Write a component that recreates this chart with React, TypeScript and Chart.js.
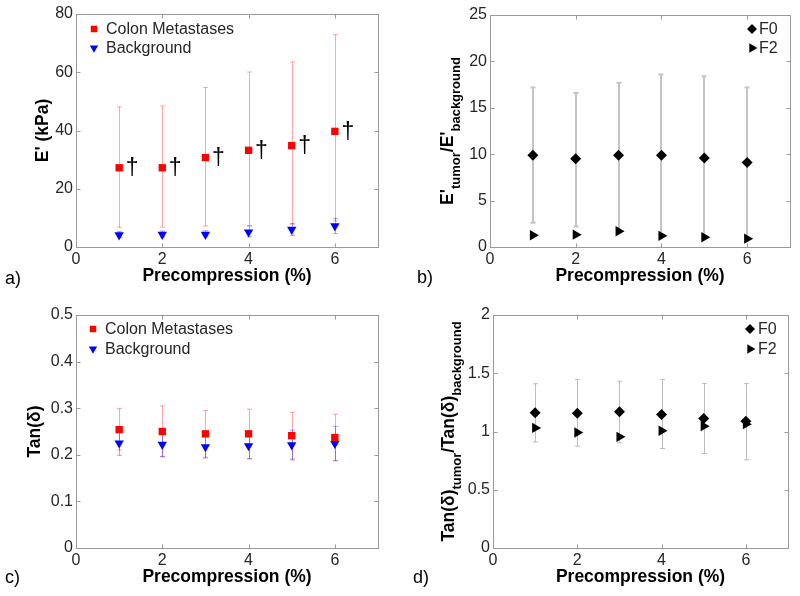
import React, { useEffect, useRef } from 'react';
import { Chart, registerables } from 'chart.js';
import { drawPoint } from 'chart.js/helpers';

Chart.register(...registerables);

const FONT = "'Liberation Sans', Arial, Helvetica, sans-serif";

// ---------- data ----------
const precompression = [1, 2, 3, 4, 5, 6];
const xTicks = [0, 2, 4, 6];

// panel a: E' (kPa)
const eColon = [27.2, 27.2, 30.7, 33.2, 34.8, 39.7];
const eColonLow = [6.8, 6.8, 7.2, 7.4, 7.8, 9.0];
const eColonHigh = [48.1, 48.4, 54.8, 60.1, 63.5, 72.9];
const eBackground = [4.1, 4.3, 4.3, 5.1, 6.0, 7.2];
const eBackgroundLow = [3.3, 3.4, 3.5, 3.5, 3.9, 4.6];
const eBackgroundHigh = [5.3, 5.5, 5.6, 7.2, 8.1, 9.8];
const eYTicks = [0, 20, 40, 60, 80];

// panel b: E'tumor / E'background
const eRatioF0 = [9.9, 9.5, 9.9, 9.9, 9.6, 9.1];
const eRatioF0Low = [2.6, 2.2, 1.8, 1.3, 1.2, 1.0];
const eRatioF0High = [17.2, 16.6, 17.7, 18.6, 18.4, 17.2];
const eRatioF2 = [1.26, 1.33, 1.7, 1.2, 1.05, 0.9];
const eRatioYTicks = [0, 5, 10, 15, 20, 25];

// panel c: Tan(delta)
const tanColon = [0.254, 0.25, 0.245, 0.245, 0.241, 0.237];
const tanColonLow = [0.21, 0.196, 0.195, 0.192, 0.191, 0.188];
const tanColonHigh = [0.299, 0.305, 0.295, 0.298, 0.291, 0.287];
const tanBackground = [0.225, 0.222, 0.217, 0.219, 0.221, 0.224];
const tanBackgroundLow = [0.199, 0.196, 0.193, 0.191, 0.189, 0.187];
const tanBackgroundHigh = [0.251, 0.248, 0.241, 0.247, 0.253, 0.261];
const tanYTicks = [0, 0.1, 0.2, 0.3, 0.4, 0.5];

// panel d: Tan(delta)tumor / Tan(delta)background
const tanRatioF0 = [1.16, 1.157, 1.169, 1.146, 1.111, 1.089];
const tanRatioF0Low = [0.91, 0.874, 0.903, 0.854, 0.811, 0.757];
const tanRatioF0High = [1.41, 1.446, 1.431, 1.446, 1.411, 1.411];
const tanRatioF2 = [1.031, 0.991, 0.954, 1.006, 1.046, 1.063];
const tanRatioYTicks = [0, 0.5, 1, 1.5, 2];

const xTitle = 'Precompression (%)';

// ---------- types ----------
type Part = { text: string; sub?: boolean };
type ErrSpec = { low: number[]; high: number[]; color: string; width: number; cap: number };
type LegendItem = { label: string; style: string; rotation: number; radius: number; color: string };
type PanelSpec = {
  left: number; top: number; width: number; height: number;
  area: { left: number; top: number; right: number; bottom: number };
  yMin: number; yMax: number; yTicks: number[];
  datasets: any[];
  errors: ErrSpec[];
  legend: { x: number; y: number; gap: number; textX: number; items: LegendItem[] };
  yTitle: Part[]; yTitleX: number;
  label: string; labelX: number; labelY: number;
  daggers?: number[];
};

const pts = (ys: number[]) => precompression.map((x, i) => ({ x, y: ys[i] }));

const marker = (label: string, ys: number[], style: string, rotation: number, radius: number, color: string) => ({
  label,
  data: pts(ys),
  pointStyle: style,
  pointRotation: rotation,
  pointRadius: radius,
  pointBackgroundColor: color,
  pointBorderColor: color,
  pointBorderWidth: 0,
  showLine: false,
});

const RED = '#ff0000';
const BLUE = '#0000ff';
const BLACK = '#000000';

const panels: PanelSpec[] = [
  {
    left: 0, top: 0, width: 400, height: 298,
    area: { left: 76, top: 14, right: 378, bottom: 247 },
    yMin: 0, yMax: 80, yTicks: eYTicks,
    datasets: [
      marker('Colon Metastases', eColon, 'rect', 0, 5.2, RED),
      marker('Background', eBackground, 'triangle', 180, 5.4, BLUE),
    ],
    errors: [
      { low: eColonLow, high: eColonHigh, color: 'rgba(255,0,0,0.35)', width: 1, cap: 2.5 },
      { low: eBackgroundLow, high: eBackgroundHigh, color: 'rgba(0,0,255,0.35)', width: 1, cap: 2.5 },
    ],
    legend: {
      x: 94, y: 29, gap: 19, textX: 106,
      items: [
        { label: 'Colon Metastases', style: 'rect', rotation: 0, radius: 4.6, color: RED },
        { label: 'Background', style: 'triangle', rotation: 180, radius: 4.8, color: BLUE },
      ],
    },
    yTitle: [{ text: "E' (kPa)" }], yTitleX: 43,
    label: 'a)', labelX: 5, labelY: 279,
    daggers: eColon,
  },
  {
    left: 400, top: 0, width: 400, height: 298,
    area: { left: 90, top: 15, right: 390, bottom: 247 },
    yMin: 0, yMax: 25, yTicks: eRatioYTicks,
    datasets: [
      marker('F0', eRatioF0, 'rectRot', 0, 5.5, BLACK),
      marker('F2', eRatioF2, 'triangle', 90, 6, BLACK),
    ],
    errors: [
      { low: eRatioF0Low, high: eRatioF0High, color: '#c4c4c4', width: 2, cap: 2.5 },
    ],
    legend: {
      x: 352, y: 29, gap: 19, textX: 359,
      items: [
        { label: 'F0', style: 'rectRot', rotation: 0, radius: 5, color: BLACK },
        { label: 'F2', style: 'triangle', rotation: 90, radius: 5.4, color: BLACK },
      ],
    },
    yTitle: [{ text: "E'" }, { text: 'tumor', sub: true }, { text: "/E'" }, { text: 'background', sub: true }],
    yTitleX: 48,
    label: 'b)', labelX: 17, labelY: 278,
  },
  {
    left: 0, top: 298, width: 400, height: 298,
    area: { left: 76, top: 17, right: 378, bottom: 250 },
    yMin: 0, yMax: 0.5, yTicks: tanYTicks,
    datasets: [
      marker('Colon Metastases', tanColon, 'rect', 0, 5.2, RED),
      marker('Background', tanBackground, 'triangle', 180, 5.4, BLUE),
    ],
    errors: [
      { low: tanColonLow, high: tanColonHigh, color: 'rgba(255,0,0,0.35)', width: 1, cap: 2.5 },
      { low: tanBackgroundLow, high: tanBackgroundHigh, color: 'rgba(0,0,255,0.35)', width: 1, cap: 2.5 },
    ],
    legend: {
      x: 93, y: 31, gap: 20, textX: 105,
      items: [
        { label: 'Colon Metastases', style: 'rect', rotation: 0, radius: 4.6, color: RED },
        { label: 'Background', style: 'triangle', rotation: 180, radius: 4.8, color: BLUE },
      ],
    },
    yTitle: [{ text: 'Tan(δ)' }], yTitleX: 35,
    label: 'c)', labelX: 5, labelY: 280,
  },
  {
    left: 400, top: 298, width: 400, height: 298,
    area: { left: 93, top: 17, right: 388, bottom: 250 },
    yMin: 0, yMax: 2, yTicks: tanRatioYTicks,
    datasets: [
      marker('F0', tanRatioF0, 'rectRot', 0, 5.5, BLACK),
      marker('F2', tanRatioF2, 'triangle', 90, 6, BLACK),
    ],
    errors: [
      { low: tanRatioF0Low, high: tanRatioF0High, color: '#bdbdbd', width: 1, cap: 2.5 },
    ],
    legend: {
      x: 350, y: 31, gap: 20, textX: 358,
      items: [
        { label: 'F0', style: 'rectRot', rotation: 0, radius: 5, color: BLACK },
        { label: 'F2', style: 'triangle', rotation: 90, radius: 5.4, color: BLACK },
      ],
    },
    yTitle: [{ text: 'Tan(δ)' }, { text: 'tumor', sub: true }, { text: '/Tan(δ)' }, { text: 'background', sub: true }],
    yTitleX: 49,
    label: 'd)', labelX: 13, labelY: 280,
  },
];

const AXIS = '#9a9a9a';
const TEXT = '#262626';

function Panel({ spec }: { spec: PanelSpec }) {
  const ref = useRef<HTMLCanvasElement | null>(null);

  useEffect(() => {
    if (!ref.current) return;
    const s = spec;

    const framePlugin = {
      id: 'frame',
      beforeDatasetsDraw(chart: any) {
        const { ctx, chartArea: a, scales } = chart;
        ctx.save();
        ctx.strokeStyle = AXIS;
        ctx.lineWidth = 1;
        const L = Math.round(a.left) + 0.5, R = Math.round(a.right) + 0.5;
        const T = Math.round(a.top) + 0.5, B = Math.round(a.bottom) + 0.5;
        ctx.strokeRect(L, T, R - L, B - T);
        const tl = 4;
        ctx.beginPath();
        xTicks.forEach((v) => {
          const px = Math.round(scales.x.getPixelForValue(v)) + 0.5;
          ctx.moveTo(px, B); ctx.lineTo(px, B - tl);
          ctx.moveTo(px, T); ctx.lineTo(px, T + tl);
        });
        s.yTicks.forEach((v) => {
          const py = Math.round(scales.y.getPixelForValue(v)) + 0.5;
          ctx.moveTo(L, py); ctx.lineTo(L + tl, py);
          ctx.moveTo(R, py); ctx.lineTo(R - tl, py);
        });
        ctx.stroke();

        // error bars
        s.errors.forEach((e) => {
          ctx.strokeStyle = e.color;
          ctx.lineWidth = e.width;
          precompression.forEach((xv, i) => {
            const px = Math.round(scales.x.getPixelForValue(xv)) + (e.width % 2 === 1 ? 0.5 : 0);
            const y1 = scales.y.getPixelForValue(e.low[i]);
            const y2 = scales.y.getPixelForValue(e.high[i]);
            ctx.beginPath();
            ctx.moveTo(px, y1); ctx.lineTo(px, y2);
            ctx.moveTo(px - e.cap, y1); ctx.lineTo(px + e.cap, y1);
            ctx.moveTo(px - e.cap, y2); ctx.lineTo(px + e.cap, y2);
            ctx.stroke();
          });
        });
        ctx.restore();
      },
      afterDatasetsDraw(chart: any) {
        const { ctx, chartArea: a, scales } = chart;
        ctx.save();
        // daggers
        if (s.daggers) {
          ctx.fillStyle = '#000';
          ctx.font = `23px ${FONT}`;
          ctx.textAlign = 'center';
          ctx.textBaseline = 'middle';
          precompression.forEach((xv, i) => {
            ctx.fillText('†', scales.x.getPixelForValue(xv + 0.3), scales.y.getPixelForValue(s.daggers![i]) + 1);
          });
        }
        // legend
        s.legend.items.forEach((it, i) => {
          const y = s.legend.y + i * s.legend.gap;
          ctx.fillStyle = it.color;
          ctx.strokeStyle = it.color;
          drawPoint(ctx, { pointStyle: it.style, rotation: it.rotation, radius: it.radius, borderWidth: 0 } as any, s.legend.x, y);
          ctx.fillStyle = TEXT;
          ctx.font = `16px ${FONT}`;
          ctx.textAlign = 'left';
          ctx.textBaseline = 'middle';
          ctx.fillText(it.label, s.legend.textX, y + 1);
        });
        // x title
        ctx.fillStyle = '#000';
        ctx.font = `bold 17.5px ${FONT}`;
        ctx.textAlign = 'center';
        ctx.textBaseline = 'middle';
        ctx.fillText(xTitle, (a.left + a.right) / 2, a.bottom + 29);
        // y title (rotated, with subscripts)
        const mainFont = `bold 17.5px ${FONT}`;
        const subFont = `bold 13px ${FONT}`;
        let total = 0;
        s.yTitle.forEach((p) => {
          ctx.font = p.sub ? subFont : mainFont;
          total += ctx.measureText(p.text).width;
        });
        ctx.translate(s.yTitleX, (a.top + a.bottom) / 2);
        ctx.rotate(-Math.PI / 2);
        ctx.textAlign = 'left';
        ctx.textBaseline = 'middle';
        let cx = -total / 2;
        s.yTitle.forEach((p) => {
          ctx.font = p.sub ? subFont : mainFont;
          ctx.fillText(p.text, cx, p.sub ? 8 : 0);
          cx += ctx.measureText(p.text).width;
        });
        ctx.restore();
        // panel label
        ctx.save();
        ctx.fillStyle = '#000';
        ctx.font = `18px ${FONT}`;
        ctx.textAlign = 'left';
        ctx.textBaseline = 'middle';
        ctx.fillText(s.label, s.labelX, s.labelY);
        ctx.restore();
      },
    };

    const chart = new Chart(ref.current, {
      type: 'scatter',
      data: { datasets: s.datasets },
      options: {
        responsive: false,
        animation: false,
        devicePixelRatio: 1,
        events: [],
        layout: { padding: { left: 0, top: s.area.top, right: s.width - s.area.right, bottom: 0 } },
        plugins: { legend: { display: false }, tooltip: { enabled: false } },
        scales: {
          x: {
            type: 'linear', min: 0, max: 7,
            grid: { display: false, drawTicks: false },
            border: { display: false },
            afterBuildTicks: (scale: any) => { scale.ticks = xTicks.map((v) => ({ value: v })); },
            afterFit: (scale: any) => { scale.height = s.height - s.area.bottom; },
            ticks: { padding: 3, color: TEXT, font: { size: 16, family: FONT }, maxRotation: 0, callback: (v: any) => String(v) },
          },
          y: {
            type: 'linear', min: s.yMin, max: s.yMax,
            grid: { display: false, drawTicks: false },
            border: { display: false },
            afterBuildTicks: (scale: any) => { scale.ticks = s.yTicks.map((v) => ({ value: v })); },
            afterFit: (scale: any) => { scale.width = s.area.left; },
            ticks: { padding: 3, color: TEXT, font: { size: 16, family: FONT }, callback: (v: any) => String(v) },
          },
        },
      } as any,
      plugins: [framePlugin],
    });
    return () => chart.destroy();
  }, [spec]);

  return (
    <canvas
      ref={ref}
      width={spec.width}
      height={spec.height}
      style={{ position: 'absolute', left: spec.left, top: spec.top, width: spec.width, height: spec.height }}
    />
  );
}

export default function App() {
  return (
    <div style={{ position: 'absolute', left: 0, top: 0, width: 800, height: 596, background: '#fff', overflow: 'hidden' }}>
      {panels.map((p, i) => (
        <Panel key={i} spec={p} />
      ))}
    </div>
  );
}
